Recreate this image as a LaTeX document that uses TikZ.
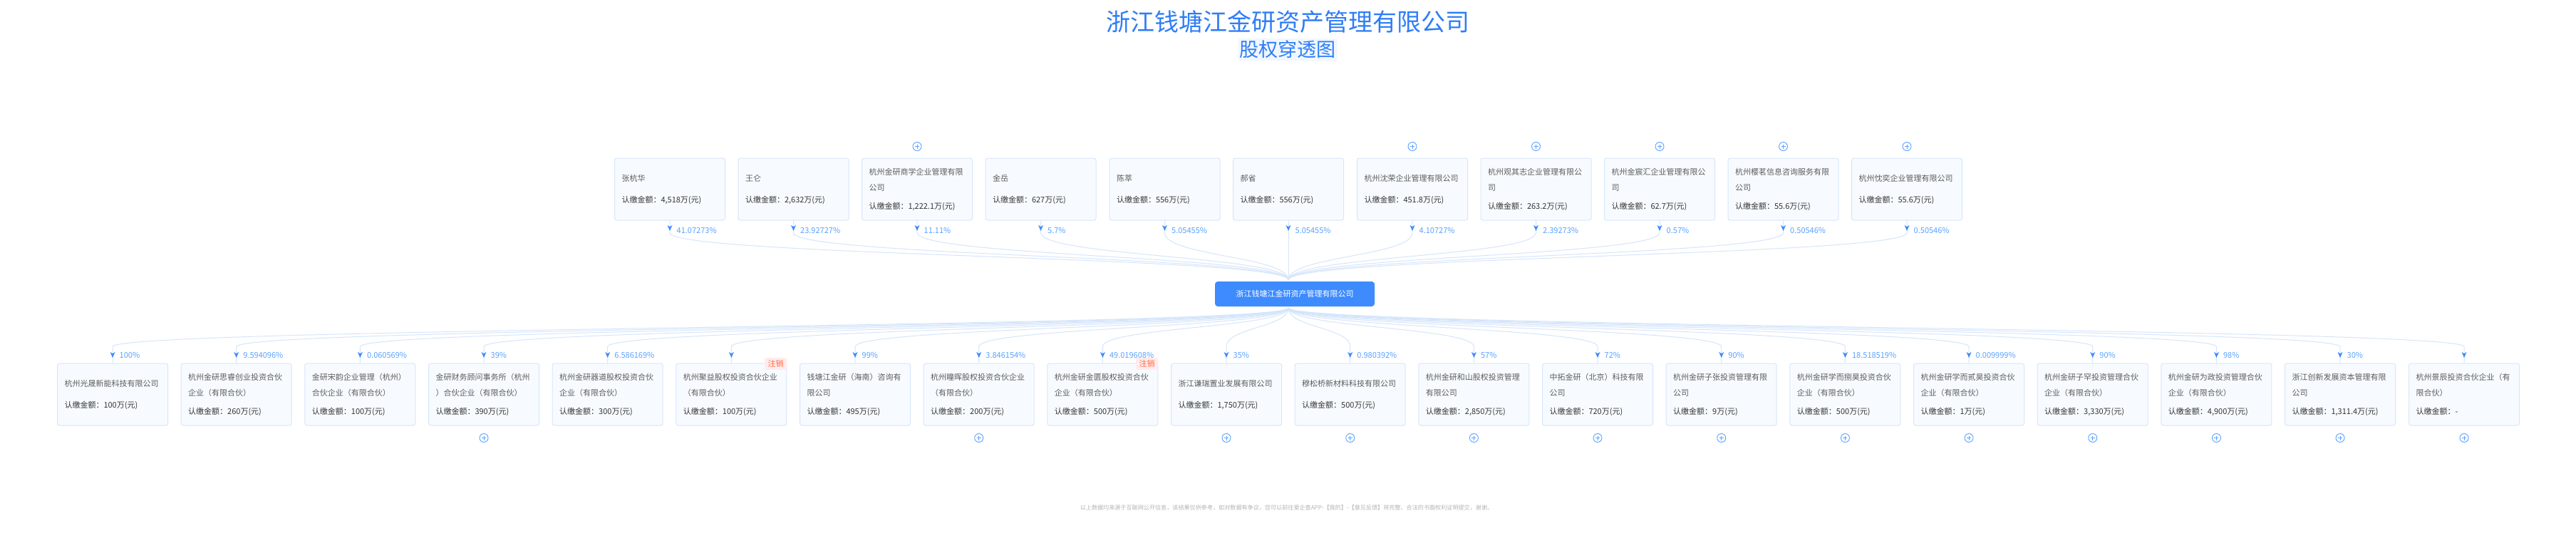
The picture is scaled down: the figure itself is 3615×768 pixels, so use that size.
\documentclass[tikz,border=0pt]{standalone}
\usepackage{fontspec}
\setmainfont{Noto Sans CJK SC}
\usetikzlibrary{calc}
\definecolor{boxfill}{HTML}{F7FBFF}
\definecolor{boxline}{HTML}{D6E6FB}
\definecolor{linkcol}{HTML}{D5E5FB}
\definecolor{accent}{HTML}{3D8BFF}
\definecolor{pctcol}{HTML}{5AA2FF}
\definecolor{titlecol}{HTML}{2F7DF6}
\definecolor{namecol}{HTML}{5C5C5C}
\definecolor{amtcol}{HTML}{333333}
\definecolor{tagfill}{HTML}{FFECEC}
\definecolor{tagtext}{HTML}{FF6A45}
\definecolor{notecol}{HTML}{B4B4B4}
\tikzset{
  entity/.style={draw=boxline,fill=boxfill,line width=1pt,rounded corners=3pt,
    minimum width=155pt,minimum height=87pt,text width=135pt,inner xsep=10pt,inner ysep=0pt,
    align=left,font=\fontsize{11}{18}\selectfont},
  hubbox/.style={fill=accent,rounded corners=4pt,minimum width=224pt,minimum height=35pt,
    inner sep=0pt,text=white,font=\fontsize{11}{14}\selectfont},
  linkline/.style={draw=linkcol,line width=1pt},
  pct/.style={text=pctcol,inner sep=0pt,anchor=base west,font=\fontsize{11}{14}\selectfont},
  tiphead/.style={fill=accent},
  plusmark/.style={circle,draw=pctcol,line width=0.9pt,minimum size=12pt,inner sep=0pt,
    path picture={\draw[pctcol,line width=0.8pt]
      ($(path picture bounding box.center)+(-3,0)$) -- ($(path picture bounding box.center)+(3,0)$)
      ($(path picture bounding box.center)+(0,-3)$) -- ($(path picture bounding box.center)+(0,3)$);}},
  tagbox/.style={fill=tagfill,rounded corners=2pt,minimum width=31pt,minimum height=17pt,inner sep=0pt,
    text=tagtext,font=\fontsize{11}{14}\selectfont}
}
% #1 name, #2 x, #3 name lines, #4 amount, #5 percentage
\newcommand{\topholder}[5]{%
  \node[entity] (#1) at (#2,265.5) {\vspace*{4pt}\color{namecol}#3\\[8pt]\color{amtcol}认缴金额：#4};
  \node[pct] (#1p) at ($(#1.south)+(9.5,17.5)$) {#5};
  \coordinate (#1a) at ($(#1.south)+(0,17)$);
  \draw[linkline] (#1.south) -- (#1a) .. controls (#1a |- topmid) and (hubin |- topmid) .. (hubin);
  \fill[tiphead,shift={($(#1.south)+(0,10.5)$)}] (-3.5,-4) -- (0,-1.8) -- (3.5,-4) -- (0,4) -- cycle;
}
\newcommand{\subsidiary}[5]{%
  \node[entity] (#1) at (#2,553.5) {\vspace*{4pt}\color{namecol}#3\\[8pt]\color{amtcol}认缴金额：#4};
  \node[pct] (#1p) at ($(#1.north)+(9.5,-7.5)$) {#5};
  \coordinate (#1a) at ($(#1.north)+(0,-23)$);
  \draw[linkline] (hubout) .. controls (hubout |- botmid) and (#1a |- botmid) .. (#1a) -- (#1.north);
  \fill[tiphead,shift={($(#1.north)+(0,-11.5)$)}] (-3.5,-4) -- (0,-1.8) -- (3.5,-4) -- (0,4) -- cycle;
}
\begin{document}
\begin{tikzpicture}[x=1pt,y=-1pt]
\useasboundingbox (0,0) rectangle (3615,768);
\fill[white] (0,0) rectangle (3615,768);

\node[text=titlecol,inner sep=0pt,font=\fontsize{34}{40}\selectfont] (title) at (1807,31) {浙江钱塘江金研资产管理有限公司};
\node[text=titlecol,fill=accent!7,rounded corners=2pt,minimum width=139pt,minimum height=31pt,inner sep=0pt,font=\fontsize{27}{32}\selectfont] (subtitle) at (1807,69.5) {股权穿透图};

\node[hubbox] (hub) at (1817,412.5) {浙江钱塘江金研资产管理有限公司};
\coordinate (hubin) at ($(hub.north)+(-9,-2)$);
\coordinate (hubout) at ($(hub.south)+(-9,2)$);
\coordinate (topmid) at (0,359.5);
\coordinate (botmid) at (0,459.5);

\topholder{t1}{940}{张杭华}{4,518万(元)}{41.07273\%}
\topholder{t2}{1113.5}{王仑}{2,632万(元)}{23.92727\%}
\topholder{t3}{1287}{杭州金研商学企业管理有限\\公司}{1,222.1万(元)}{11.11\%}
\topholder{t4}{1460.5}{金岳}{627万(元)}{5.7\%}
\topholder{t5}{1634.5}{陈萃}{556万(元)}{5.05455\%}
\topholder{t6}{1808}{郝省}{556万(元)}{5.05455\%}
\topholder{t7}{1982}{杭州沈荣企业管理有限公司}{451.8万(元)}{4.10727\%}
\topholder{t8}{2155.5}{杭州观其志企业管理有限公\\司}{263.2万(元)}{2.39273\%}
\topholder{t9}{2329}{杭州金宸汇企业管理有限公\\司}{62.7万(元)}{0.57\%}
\topholder{t10}{2502.5}{杭州樱茗信息咨询服务有限\\公司}{55.6万(元)}{0.50546\%}
\topholder{t11}{2676}{杭州忱奕企业管理有限公司}{55.6万(元)}{0.50546\%}

\subsidiary{b1}{158}{杭州光晟新能科技有限公司}{100万(元)}{100\%}
\subsidiary{b2}{331.7}{杭州金研思睿创业投资合伙\\企业（有限合伙）}{260万(元)}{9.594096\%}
\subsidiary{b3}{505.4}{金研宋韵企业管理（杭州）\\合伙企业（有限合伙）}{100万(元)}{0.060569\%}
\subsidiary{b4}{679}{金研财务顾问事务所（杭州\\）合伙企业（有限合伙）}{390万(元)}{39\%}
\subsidiary{b5}{852.7}{杭州金研器道股权投资合伙\\企业（有限合伙）}{300万(元)}{6.586169\%}
\subsidiary{b6}{1026.4}{杭州聚益股权投资合伙企业\\（有限合伙）}{100万(元)}{}
\subsidiary{b7}{1200}{钱塘江金研（海南）咨询有\\限公司}{495万(元)}{99\%}
\subsidiary{b8}{1373.7}{杭州瞳晖股权投资合伙企业\\（有限合伙）}{200万(元)}{3.846154\%}
\subsidiary{b9}{1547.4}{杭州金研金匮股权投资合伙\\企业（有限合伙）}{500万(元)}{49.019608\%}
\subsidiary{b10}{1721}{浙江谦瑞置业发展有限公司}{1,750万(元)}{35\%}
\subsidiary{b11}{1894.7}{穆松桥新材料科技有限公司}{500万(元)}{0.980392\%}
\subsidiary{b12}{2068.4}{杭州金研和山股权投资管理\\有限公司}{2,850万(元)}{57\%}
\subsidiary{b13}{2242}{中拓金研（北京）科技有限\\公司}{720万(元)}{72\%}
\subsidiary{b14}{2415.7}{杭州金研子张投资管理有限\\公司}{9万(元)}{90\%}
\subsidiary{b15}{2589.4}{杭州金研学而捌昊投资合伙\\企业（有限合伙）}{500万(元)}{18.518519\%}
\subsidiary{b16}{2763}{杭州金研学而贰昊投资合伙\\企业（有限合伙）}{1万(元)}{0.009999\%}
\subsidiary{b17}{2936.7}{杭州金研子罕投资管理合伙\\企业（有限合伙）}{3,330万(元)}{90\%}
\subsidiary{b18}{3110.4}{杭州金研为政投资管理合伙\\企业（有限合伙）}{4,900万(元)}{98\%}
\subsidiary{b19}{3284}{浙江创新发展资本管理有限\\公司}{1,311.4万(元)}{30\%}
\subsidiary{b20}{3458}{杭州景辰投资合伙企业（有\\限合伙）}{-}{}

\foreach \n in {t3,t7,t8,t9,t10,t11}
  \node[plusmark] (\n x) at ($(\n.north)+(0,-16)$) {};
\foreach \n in {b4,b8,b10,b11,b12,b13,b14,b15,b16,b17,b18,b19,b20}
  \node[plusmark] (\n x) at ($(\n.south)+(0,17)$) {};

\node[tagbox] (tag1) at (1088.5,510.5) {注销};
\node[tagbox] (tag2) at (1609.5,510.5) {注销};

\node[text=notecol,inner sep=0pt,font=\fontsize{8.1}{10}\selectfont] (note) at (1805.5,712) {以上数据均来源于互联网公开信息，该结果仅供参考，如对数据有争议，您可以前往爱企查APP-【我的】-【意见反馈】将完整、合法的书面权利证明提交，谢谢。};
\end{tikzpicture}
\end{document}
